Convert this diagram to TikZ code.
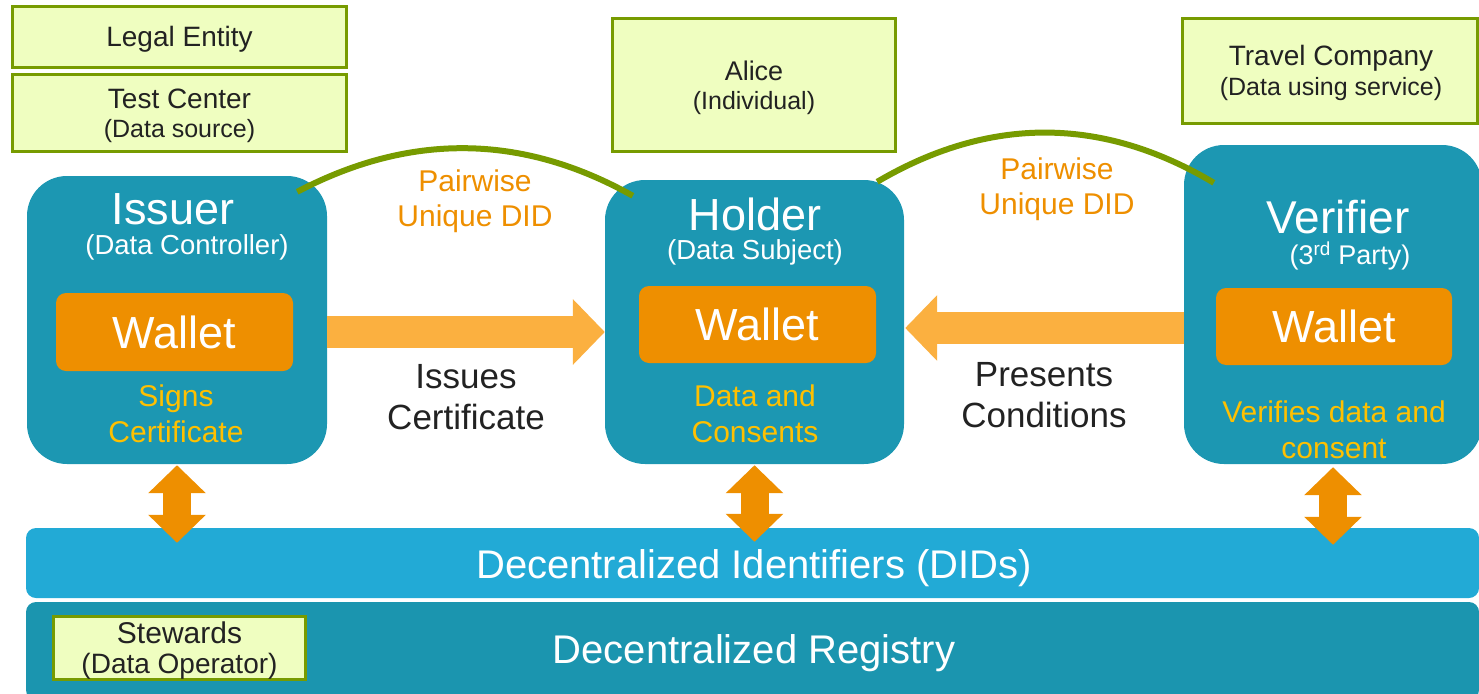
\documentclass[tikz,border=0pt]{standalone}
\usepackage{fontspec}
\setmainfont{Liberation Sans}
\usetikzlibrary{arrows.meta,calc}
\definecolor{tealbox}{HTML}{1C97B2}
\definecolor{didblue}{HTML}{22AAD6}
\definecolor{regteal}{HTML}{1B95AF}
\definecolor{walletorange}{HTML}{EE8F00}
\definecolor{lightorange}{HTML}{FBB040}
\definecolor{goldtext}{HTML}{FFC000}
\definecolor{olivegreen}{HTML}{779B00}
\definecolor{limefill}{HTML}{EFFEC0}
\definecolor{darktext}{HTML}{222222}
\tikzset{
  rolebox/.style={fill=tealbox, rounded corners=40pt, inner sep=0pt},
  walletbox/.style={fill=walletorange, rounded corners=10pt, inner sep=0pt,
    text=white, font=\fontsize{45}{50}\selectfont},
  infobox/.style={fill=limefill, draw=olivegreen, line width=3pt, inner sep=0pt},
  infotext/.style={text=darktext, font=\fontsize{28}{32}\selectfont},
  infosub/.style={text=darktext, font=\fontsize{25}{30}\selectfont},
  roletitle/.style={text=white, font=\fontsize{46}{50}\selectfont},
  rolesub/.style={text=white, font=\fontsize{27.5}{32}\selectfont},
  goldlabel/.style={text=goldtext, align=center, font=\fontsize{30}{36}\selectfont},
  didlabel/.style={text=walletorange, align=center, font=\fontsize{30}{35}\selectfont},
  flowlabel/.style={text=darktext, align=center, font=\fontsize{35}{41}\selectfont},
  barlabel/.style={text=white, font=\fontsize{40}{44}\selectfont},
  fatarrow/.style={draw=lightorange, line width=32pt,
    -{Triangle[length=32pt,width=64pt,fill=lightorange]}},
  dblarrow/.style={draw=walletorange, line width=28pt,
    {Triangle[length=28pt,width=56pt,fill=walletorange]}-{Triangle[length=28pt,width=56pt,fill=walletorange]}},
  didcurve/.style={draw=olivegreen, line width=6pt}
}
\begin{document}
\begin{tikzpicture}[x=1pt,y=-1pt]
\useasboundingbox (0,0) rectangle (1479,693);

% bottom bars
\node[fill=didblue, rounded corners=10pt, inner sep=0pt, minimum width=1453pt, minimum height=70pt] (dids) at (752.5,563) {};
\node[fill=regteal, rounded corners=10pt, inner sep=0pt, minimum width=1453pt, minimum height=98pt] (reg) at (752.5,651) {};
\node[barlabel] (didsT) at (754,568) {Decentralized Identifiers (DIDs)};
\node[barlabel] (regT) at (754,653) {Decentralized Registry};
\node[infobox, minimum width=252pt, minimum height=63pt] (stew) at (179.5,648) {};
\node[infotext, font=\fontsize{30}{34}\selectfont] (stewT) at (179.5,633) {Stewards};
\node[infosub, font=\fontsize{28}{32}\selectfont] (stewS) at (179.5,666) {(Data Operator)};

% top info boxes
\node[infobox, minimum width=334pt, minimum height=61pt] (legal) at (179.5,37) {};
\node[infotext] (legalT) at (179.5,39) {Legal Entity};
\node[infobox, minimum width=334pt, minimum height=77pt] (test) at (179.5,113) {};
\node[infotext] (testT) at (179.5,99) {Test Center};
\node[infosub] (testS) at (179.5,131) {(Data source)};
\node[infobox, minimum width=283pt, minimum height=133pt] (alice) at (754,85) {};
\node[infotext, font=\fontsize{27}{32}\selectfont] (aliceT) at (754,71) {Alice};
\node[infosub] (aliceS) at (754,103) {(Individual)};
\node[infobox, minimum width=295pt, minimum height=105pt] (travel) at (1330,71) {};
\node[infotext] (travelT) at (1331,58) {Travel Company};
\node[infosub] (travelS) at (1331,89) {(Data using service)};

% role boxes
\node[rolebox, minimum width=300pt, minimum height=288pt] (issuer) at (177,320) {};
\node[rolebox, minimum width=299pt, minimum height=284pt] (holder) at (754.5,322) {};
\node[rolebox, minimum width=298pt, minimum height=319pt] (verifier) at (1333,304.5) {};

\node[roletitle, font=\fontsize{45}{50}\selectfont] (issuerT) at (173,209) {Issuer};
\node[rolesub] (issuerS) at (187,247) {(Data Controller)};
\node[roletitle, font=\fontsize{45}{50}\selectfont] (holderT) at (755,214) {Holder};
\node[rolesub] (holderS) at (755,252) {(Data Subject)};
\node[roletitle] (verifierT) at (1338,217) {Verifier};
\node[rolesub, font=\fontsize{27}{32}\selectfont] (verifierS) at (1350,256) {(3\textsuperscript{rd} Party)};

\node[walletbox, minimum width=237pt, minimum height=78pt] (w1) at (174.5,332) {Wallet};
\node[walletbox, minimum width=237pt, minimum height=77pt] (w2) at (757.5,324.5) {Wallet};
\node[walletbox, minimum width=236pt, minimum height=77pt] (w3) at (1334,326.5) {Wallet};

\node[goldlabel] (sign) at (176,414) {Signs\\Certificate};
\node[goldlabel] (cons) at (755,414) {Data and\\Consents};
\node[goldlabel] (verif) at (1334,430) {Verifies data and\\consent};

% flow labels
\node[didlabel] (pw1) at (475,201) {Pairwise\\Unique DID};
\node[didlabel] (pw2) at (1057,189) {Pairwise\\Unique DID};
\node[flowlabel] (issues) at (466,397) {Issues\\Certificate};
\node[flowlabel] (presents) at (1044,395) {Presents\\Conditions};

% fat arrows
\draw[fatarrow] ($(issuer.east)+(0,12)$) -- ($(holder.west)+(0,10)$);
\draw[fatarrow] ($(verifier.west)+(0,23.5)$) -- ($(holder.east)+(1,6)$);

% double arrows to DID layer
\coordinate (d1) at ($(issuer.south |- dids.north)+(0,15)$);
\coordinate (d2) at ($(holder.south |- dids.north)+(0,14)$);
\coordinate (d3) at ($(verifier.south |- dids.north)+(0,17)$);
\draw[dblarrow] ($(issuer.south)+(0,1)$) -- (d1);
\draw[dblarrow] ($(holder.south)+(0,1)$) -- (d2);
\draw[dblarrow] ($(verifier.south)+(0,3)$) -- (d3);

% pairwise DID curves
\draw[didcurve] ($(issuer.north east)+(-30,16)$) .. controls (409,133) and (521,133) .. ($(holder.north west)+(28,16)$);
\draw[didcurve] ($(holder.north east)+(-27,2)$) .. controls (989,116) and (1102,116) .. ($(verifier.north west)+(30,38)$);
\end{tikzpicture}
\end{document}
